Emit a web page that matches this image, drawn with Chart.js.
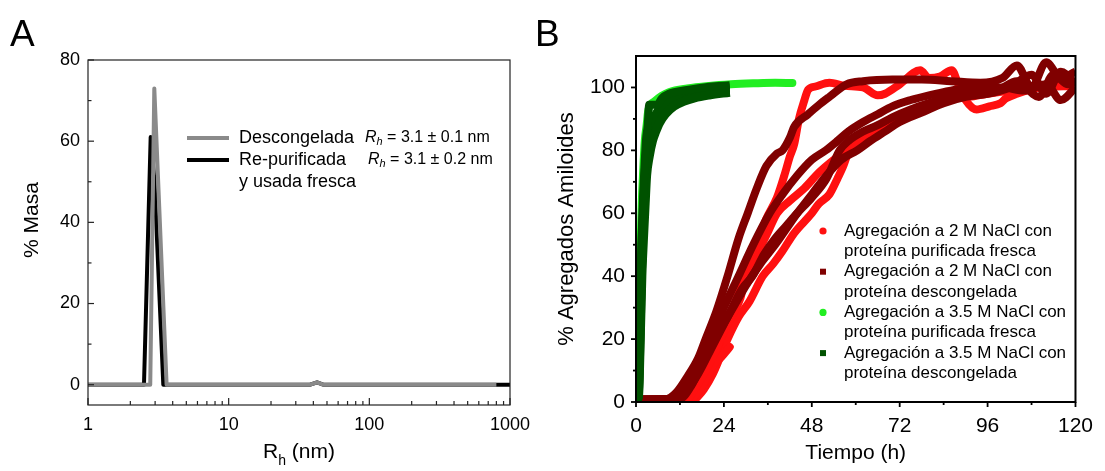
<!DOCTYPE html>
<html>
<head>
<meta charset="utf-8">
<script src="https://cdn.jsdelivr.net/npm/chart.js@4.4.1/dist/chart.umd.min.js"></script>
<style>
    body { margin: 0; background: #fff; }
    #wrap { position: relative; width: 1105px; height: 471px; font-family: "Liberation Sans", Arial, sans-serif; }
    .letra { position: absolute; top: 15px; font-size: 37px; line-height: 1; color: #000; }
    #cA { position: absolute; left: 0; top: 0; }
    #cB { position: absolute; left: 550px; top: 0; }
</style>
</head>
<body>
<div id="wrap">
    <canvas id="cA" width="550" height="471"></canvas>
    <canvas id="cB" width="555" height="471"></canvas>
    <div class="letra" style="left:10px">A</div>
    <div class="letra" style="left:535px">B</div>
</div>
<script>
// ---------- Panel A: DLS ----------
const rhTicks = [1, 10, 100, 1000];
const rhMenores = [2, 3, 4, 5, 6, 7, 8, 9, 20, 30, 40, 50, 60, 70, 80, 90, 200, 300, 400, 500, 600, 700, 800, 900];
const masaTicks = [0, 20, 40, 60, 80];
const masaMenores = [10, 30, 50, 70];

const rhDescongelada = [1, 2.77, 2.96, 3.62, 38, 42.5, 47, 800];
const masaDescongelada = [0, 0, 73, 0, 0, 0.6, 0, 0];
const rhRepurificada = [1, 2.5, 2.79, 2.97, 3.43, 38, 42.5, 47, 1000];
const masaRepurificada = [0, 0, 61, 50, 0, 0, 0.6, 0, 0];

// ---------- Panel B: cinetica de agregacion ----------
const tiempoTicks = [0, 24, 48, 72, 96, 120];
const tiempoMenores = [12, 36, 60, 84, 108];
const agregTicks = [0, 20, 40, 60, 80, 100];
const agregMenores = [10, 30, 50, 70, 90];

// 2 M NaCl, proteina purificada fresca (rojo)
const rojo1 = [[14, 0.5], [16.5, 5], [19, 10], [22, 17], [25, 26], [27.5, 33], [30, 40], [32, 47], [33.7, 52], [35.5, 58], [38.5, 65], [40.5, 72], [42, 78], [43.2, 82], [44.5, 90], [46, 96], [47, 99.3], [49, 100.3], [52.8, 101.5], [57, 100.5], [62, 100], [66, 97.5], [68, 98], [72, 101], [77.6, 105.5], [80, 103], [83, 103.5], [86.2, 105.5], [88, 101], [90, 96], [93, 93], [96.5, 94], [99.5, 95], [101, 96.5], [104, 98], [110, 100], [116, 101], [120, 102]];
const rojo2 = [[14.5, 0.5], [16.5, 2.5], [18.5, 6], [20.6, 11], [23.3, 14.3], [25.6, 17.5]];
const rojo3 = [[15, 0.5], [17.5, 4], [20, 9], [23.2, 20], [26, 27], [28.5, 33], [30, 40], [33, 47], [36, 54], [38.5, 60], [42, 64], [46, 68], [50, 73], [54, 77], [57.5, 80], [61, 83], [65, 86], [70, 89], [76, 92.5], [82, 95], [88, 97], [94, 98.5], [100, 99.5], [108, 100.5], [120, 101]];
const rojo4 = [[16, 0.5], [18.5, 4], [21, 9], [25, 20], [28, 27], [31, 32], [34.6, 40], [37.5, 44], [40, 48], [43.2, 53.7], [48, 60], [49.9, 63], [52.8, 66], [55, 71], [56.6, 75], [58.5, 81], [60, 83], [62.3, 84], [67, 86.5], [71.9, 89.7], [76, 92], [81.4, 95], [86, 96.5], [91, 97], [96, 98], [102, 99], [110, 100], [120, 100.5]];

// 2 M NaCl, proteina descongelada (rojo oscuro)
const rojoOsc1 = [[0, 0.8], [8, 0.8], [11, 3], [14, 8], [17, 14], [19, 20], [22, 29], [25, 40], [28, 52], [30.5, 60], [33, 68], [35.6, 75], [38.5, 79], [40, 80], [42, 84], [43.2, 87.5], [47, 91.5], [50, 94.5], [52.8, 97], [57.5, 101], [62, 102], [70, 102.5], [78, 102.5], [86, 102], [94, 101.5], [100, 103], [104, 107], [108, 100], [112, 108], [116, 103], [120, 105]];
const rojoOsc2 = [[0, 0.8], [10, 1], [13, 4], [16, 10], [20.3, 20], [24, 30], [28, 40], [32, 50], [36.5, 60], [40, 66], [44, 72], [48, 77], [51.8, 80], [55, 83], [58, 86], [62, 89], [66, 91.5], [70, 94], [75, 96], [80, 97.5], [86, 99], [92, 100], [98, 99], [104, 102], [110, 97], [114, 104], [118, 101], [120, 102]];
const rojoOsc3 = [[0, 0.8], [11, 1], [14, 4], [17, 9], [21, 18], [25, 27], [29, 36], [31.8, 40], [35, 47], [38, 52], [41, 56], [44, 60], [48, 65], [52, 71], [55.6, 80], [58, 83], [62, 86], [66, 88], [70, 90.5], [75, 93], [80, 95], [86, 97], [92, 98.5], [100, 100], [106, 99], [112, 101], [116, 96], [120, 100]];
const rojoOsc4 = [[0, 0.8], [12, 1], [15, 5], [18, 12], [21, 19], [24, 25], [27, 31], [30, 37], [34, 44], [38, 50], [44, 60], [48, 66], [52, 72], [56, 77], [60.4, 80], [64, 83], [68, 86], [72, 89], [78, 92], [84, 95], [90, 97], [96, 98], [102, 100], [108, 104], [112, 98], [116, 105], [120, 101]];

// 3.5 M NaCl, proteina purificada fresca (verde claro)
const verde1 = [[0, 0], [0.4, 4], [0.7, 20], [1.0, 38], [1.3, 51], [1.6, 64], [1.9, 72], [2.4, 83], [2.9, 88], [3.4, 93], [5, 95.5], [7, 97.3], [9, 98.5], [14, 99.7], [20, 100.5], [26, 101], [32, 101.3], [38, 101.5], [42.7, 101.4]];

// 3.5 M NaCl, proteina descongelada (verde oscuro)
const verdeOsc1 = [[0, 0], [0.5, 2], [0.9, 19], [1.2, 38], [1.5, 51], [1.9, 64], [2.2, 72], [2.7, 83], [3.2, 88], [3.6, 94.5], [5.8, 94.5], [7, 96.5], [9, 98], [14, 99.2], [20, 100.2], [25.6, 100.7]];
const verdeOsc2 = [[0, 0], [0.7, 2], [1.2, 22], [1.6, 40], [2, 51], [2.5, 63], [2.9, 72], [3.6, 78], [4.5, 83], [5.4, 86], [6.3, 88.5], [8, 91.5], [10.3, 94], [13, 95.6], [16, 96.7], [20, 97.6], [25.6, 98.5]];
const verdeOsc3 = [[0, 0], [0.6, 2], [1, 20], [1.4, 40], [1.8, 55], [2.3, 68], [2.8, 78], [3.5, 85], [4.5, 89], [6, 92.5], [8, 95], [11, 97], [15, 98.5], [20, 99.4], [25.6, 99.8]];
const verdeOsc4 = [[0, 0], [0.6, 2], [1.1, 21], [1.5, 42], [1.9, 56], [2.4, 67], [3.0, 76], [3.8, 83], [5, 88], [7, 92], [9, 94.2], [12, 96.2], [16, 97.8], [20, 98.7], [25.6, 99.2]];

const FUENTE = '"Liberation Sans", Arial, sans-serif';

function puntos(xs, ys) {
    return xs.map((x, i) => ({ x: x, y: ys[i] }));
}

function pares(arr) {
    return arr.map((p) => ({ x: p[0], y: p[1] }));
}

function marcas(ctx, scale, valores, largo, sentido) {
    // sentido: 1 = hacia dentro del area, -1 = hacia fuera
    const a = scale.chart.chartArea;
    valores.forEach((v) => {
        const p = scale.getPixelForValue(v);
        ctx.beginPath();
        if (scale.isHorizontal()) {
            ctx.moveTo(p, a.bottom);
            ctx.lineTo(p, a.bottom - sentido * largo);
        } else {
            ctx.moveTo(a.left, p);
            ctx.lineTo(a.left + sentido * largo, p);
        }
        ctx.stroke();
    });
}

function fijarTicks(valores) {
    return (scale) => {
        scale.ticks = valores.map((v) => ({ value: v }));
    };
}

// ---------- Chart A ----------
const marcoA = {
    id: "marcoA",
    afterDraw(chart) {
        const { ctx, chartArea: a, scales } = chart;
        ctx.save();
        ctx.strokeStyle = "#222";
        ctx.lineWidth = 1.2;
        ctx.strokeRect(a.left, a.top, a.right - a.left, a.bottom - a.top);
        marcas(ctx, scales.x, rhTicks, 7, 1);
        marcas(ctx, scales.x, rhMenores, 4, 1);
        marcas(ctx, scales.y, masaTicks, 6, 1);
        marcas(ctx, scales.y, masaMenores, 3.5, 1);

        ctx.fillStyle = "#000";
        // titulo eje y
        ctx.save();
        ctx.translate(32, 220);
        ctx.rotate(-Math.PI / 2);
        ctx.font = "21px " + FUENTE;
        ctx.textAlign = "center";
        ctx.textBaseline = "middle";
        ctx.fillText("% Masa", 0, 0);
        ctx.restore();

        // titulo eje x con subindice
        ctx.textBaseline = "alphabetic";
        ctx.font = "21px " + FUENTE;
        const wR = ctx.measureText("R").width;
        const wResto = ctx.measureText(" (nm)").width;
        ctx.font = "14px " + FUENTE;
        const wh = ctx.measureText("h").width;
        let x0 = (a.left + a.right) / 2 - (wR + wh + wResto) / 2;
        ctx.font = "21px " + FUENTE;
        ctx.fillText("R", x0, 458);
        ctx.font = "14px " + FUENTE;
        ctx.fillText("h", x0 + wR, 465);
        ctx.font = "21px " + FUENTE;
        ctx.fillText(" (nm)", x0 + wR + wh, 458);

        // leyenda
        ctx.lineWidth = 4;
        ctx.strokeStyle = "#8a8a8a";
        ctx.beginPath(); ctx.moveTo(187, 138); ctx.lineTo(229, 138); ctx.stroke();
        ctx.strokeStyle = "#000";
        ctx.beginPath(); ctx.moveTo(187, 160); ctx.lineTo(229, 160); ctx.stroke();
        ctx.font = "18px " + FUENTE;
        ctx.textBaseline = "middle";
        ctx.fillText("Descongelada", 239, 138);
        ctx.fillText("Re-purificada", 239, 160);
        ctx.fillText("y usada fresca", 239, 182);
        [["R", "h", " = 3.1 ± 0.1 nm", 365, 138], ["R", "h", " = 3.1 ± 0.2 nm", 368, 160]].forEach((t) => {
            let x = t[3];
            ctx.font = "italic 16px " + FUENTE;
            ctx.fillText(t[0], x, t[4]);
            x += ctx.measureText(t[0]).width;
            ctx.font = "italic 11px " + FUENTE;
            ctx.fillText(t[1], x, t[4] + 4);
            x += ctx.measureText(t[1]).width;
            ctx.font = "16px " + FUENTE;
            ctx.fillText(t[2], x, t[4]);
        });
        ctx.restore();
    },
};

new Chart(document.getElementById("cA"), {
    type: "scatter",
    data: {
        datasets: [
            {
                label: "Descongelada",
                data: puntos(rhDescongelada, masaDescongelada),
                showLine: true,
                borderColor: "#8a8a8a",
                borderWidth: 4,
                pointRadius: 0,
                borderJoinStyle: "round",
            },
            {
                label: "Re-purificada y usada fresca",
                data: puntos(rhRepurificada, masaRepurificada),
                showLine: true,
                borderColor: "#000",
                borderWidth: 4,
                pointRadius: 0,
                borderJoinStyle: "round",
            },
        ],
    },
    options: {
        responsive: false,
        animation: false,
        layout: { padding: { top: 60, right: 40, left: 0, bottom: 0 } },
        plugins: { legend: { display: false }, tooltip: { enabled: false } },
        scales: {
            x: {
                type: "logarithmic",
                min: 1,
                max: 1000,
                afterBuildTicks: fijarTicks(rhTicks),
                afterFit: (s) => { s.height = 66; },
                grid: { display: false, drawTicks: false },
                border: { display: false },
                ticks: { font: { size: 18, family: FUENTE }, color: "#000", padding: 9, maxRotation: 0, autoSkip: false, callback: (v) => String(v) },
            },
            y: {
                min: -5,
                max: 80,
                afterBuildTicks: fijarTicks(masaTicks),
                afterFit: (s) => { s.width = 88; },
                grid: { display: false, drawTicks: false },
                border: { display: false },
                ticks: { font: { size: 18, family: FUENTE }, color: "#000", padding: 8 },
            },
        },
    },
    plugins: [marcoA],
});

// ---------- Chart B ----------
const leyendaB = [
    ["circle", "#ff1010", "Agregación a 2 M NaCl con", "proteína purificada fresca"],
    ["square", "#800000", "Agregación a 2 M NaCl con", "proteína descongelada"],
    ["circle", "#22ee22", "Agregación a 3.5 M NaCl con", "proteína purificada fresca"],
    ["square", "#005200", "Agregación a 3.5 M NaCl con", "proteína descongelada"],
];

const marcoB = {
    id: "marcoB",
    afterDraw(chart) {
        const { ctx, chartArea: a, scales } = chart;
        ctx.save();
        ctx.strokeStyle = "#000";
        ctx.lineWidth = 2;
        ctx.strokeRect(a.left, a.top, a.right - a.left, a.bottom - a.top);
        ctx.lineWidth = 1.8;
        marcas(ctx, scales.x, tiempoTicks, 5, -1);
        marcas(ctx, scales.x, tiempoMenores, 3, -1);
        marcas(ctx, scales.y, agregTicks, 5, -1);
        marcas(ctx, scales.y, agregMenores, 3, -1);

        ctx.fillStyle = "#000";
        ctx.save();
        ctx.translate(17, (a.top + a.bottom) / 2);
        ctx.rotate(-Math.PI / 2);
        ctx.font = "22px " + FUENTE;
        ctx.textAlign = "center";
        ctx.textBaseline = "middle";
        ctx.fillText("% Agregados Amiloides", 0, 0);
        ctx.restore();

        ctx.font = "21px " + FUENTE;
        ctx.textAlign = "center";
        ctx.textBaseline = "alphabetic";
        ctx.fillText("Tiempo (h)", (a.left + a.right) / 2, 459);

        ctx.textAlign = "left";
        ctx.textBaseline = "middle";
        ctx.font = "17px " + FUENTE;
        leyendaB.forEach((e, i) => {
            const y = 231 + i * 40.7;
            ctx.fillStyle = e[1];
            if (e[0] === "circle") {
                ctx.beginPath();
                ctx.arc(273, y, 3.6, 0, Math.PI * 2);
                ctx.fill();
            } else {
                ctx.fillRect(270, y - 3, 6, 6);
            }
            ctx.fillStyle = "#000";
            ctx.fillText(e[2], 294, y);
            ctx.fillText(e[3], 294, y + 20.3);
        });
        ctx.restore();
    },
};

function serie(arr, color, ancho, cap) {
    return {
        data: pares(arr),
        showLine: true,
        borderColor: color,
        backgroundColor: color,
        borderWidth: ancho,
        borderCapStyle: cap,
        borderJoinStyle: "round",
        pointRadius: 0,
        cubicInterpolationMode: "monotone",
        clip: 0,
    };
}

new Chart(document.getElementById("cB"), {
    type: "scatter",
    data: {
        datasets: [
            serie(verdeOsc1, "#005200", 8, "butt"),
            serie(verdeOsc2, "#005200", 9, "butt"),
            serie(verdeOsc3, "#005200", 9, "butt"),
            serie(verdeOsc4, "#005200", 9, "butt"),
            serie(verde1, "#22ee22", 8, "round"),
            serie(rojoOsc1, "#800000", 8, "butt"),
            serie(rojoOsc2, "#800000", 8, "butt"),
            serie(rojoOsc3, "#800000", 8, "butt"),
            serie(rojoOsc4, "#800000", 8, "butt"),
            serie(rojo1, "#ff1010", 8, "round"),
            serie(rojo2, "#ff1010", 8, "round"),
            serie(rojo3, "#ff1010", 8, "round"),
            serie(rojo4, "#ff1010", 8, "round"),
        ],
    },
    options: {
        responsive: false,
        animation: false,
        layout: { padding: { top: 56, right: 23, left: 0, bottom: 0 } },
        plugins: { legend: { display: false }, tooltip: { enabled: false } },
        scales: {
            x: {
                min: 0,
                max: 120,
                afterBuildTicks: fijarTicks(tiempoTicks),
                afterFit: (s) => { s.height = 69; },
                grid: { display: false, drawTicks: false },
                border: { display: false },
                ticks: { font: { size: 21, family: FUENTE }, color: "#000", padding: 12, maxRotation: 0, autoSkip: false },
            },
            y: {
                min: 0,
                max: 110,
                afterBuildTicks: fijarTicks(agregTicks),
                afterFit: (s) => { s.width = 86; },
                grid: { display: false, drawTicks: false },
                border: { display: false },
                ticks: { font: { size: 21, family: FUENTE }, color: "#000", padding: 11 },
            },
        },
    },
    plugins: [marcoB],
});
</script>
</body>
</html>
